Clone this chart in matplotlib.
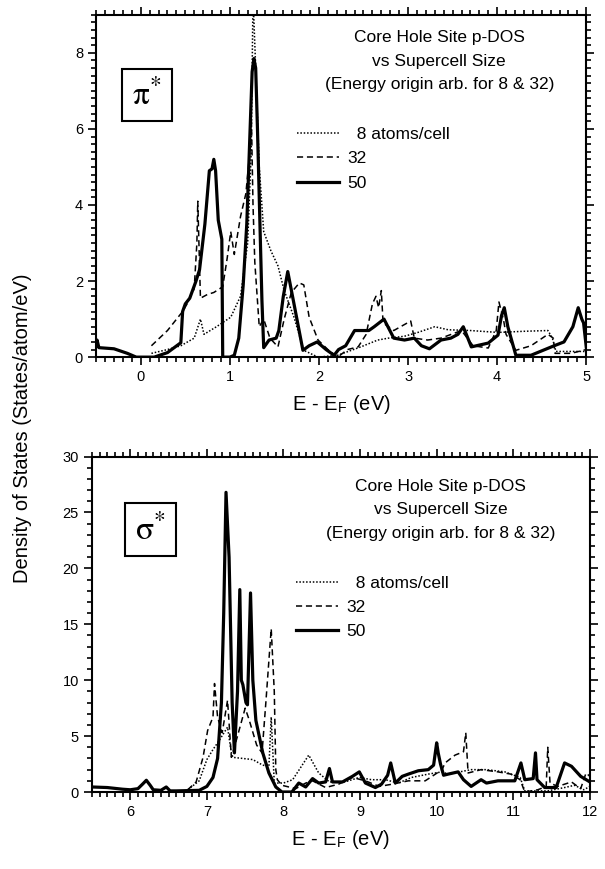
import matplotlib
matplotlib.use("Agg")
import matplotlib.pyplot as plt  # noqa: E402
from matplotlib.ticker import MultipleLocator  # noqa: E402

plt.rcParams["font.family"] = ["Liberation Sans", "DejaVu Sans"]
plt.rcParams["mathtext.fontset"] = "stix"

# --- pi* panel (E - EF, eV) ---
pi_x50 = [-0.5, -0.49, -0.47, -0.3, -0.15, -0.05, 0.15, 0.3, 0.45, 0.47,
          0.5, 0.55, 0.62, 0.66, 0.72, 0.77, 0.8, 0.82, 0.84, 0.87,
          0.91, 0.92, 1.0, 1.05, 1.1, 1.15, 1.19, 1.22, 1.25, 1.27,
          1.29, 1.31, 1.34, 1.36, 1.38, 1.44, 1.52, 1.55, 1.6, 1.65,
          1.72, 1.82, 1.89, 1.98, 2.08, 2.17, 2.22, 2.3, 2.4, 2.56,
          2.62, 2.73, 2.84, 2.96, 3.07, 3.15, 3.24, 3.37, 3.48, 3.56,
          3.62, 3.71, 3.9, 4.01, 4.05, 4.08, 4.12, 4.21, 4.38, 4.64,
          4.75, 4.85, 4.91, 4.95, 4.97, 5.0]
pi_y50 = [0.3, 0.45, 0.25, 0.22, 0.1, 0.0, 0.0, 0.12, 0.38, 1.2,
          1.4, 1.55, 2.0, 2.3, 3.5, 4.9, 4.95, 5.2, 4.9, 3.6,
          3.1, 0.0, 0.0, 0.05, 0.5, 1.9, 3.5, 5.5, 7.5, 7.85,
          7.6, 6.0, 3.3, 1.5, 0.25, 0.45, 0.5, 0.7, 1.6, 2.25,
          1.4, 0.18, 0.3, 0.4, 0.2, 0.05, 0.2, 0.3, 0.7, 0.7,
          0.8, 1.0, 0.5, 0.45, 0.5, 0.3, 0.22, 0.45, 0.5, 0.6,
          0.8, 0.27, 0.37, 0.58, 1.1, 1.3, 0.8, 0.05, 0.05, 0.3,
          0.4, 0.8, 1.3, 1.0, 0.9, 0.27]

pi_x32 = [0.12, 0.3, 0.47, 0.52, 0.6, 0.63, 0.64, 0.67, 0.75, 0.82,
          0.92, 0.97, 1.01, 1.05, 1.12, 1.18, 1.22, 1.24, 1.26, 1.28,
          1.33, 1.38, 1.45, 1.54, 1.61, 1.69, 1.78, 1.83, 1.89, 1.99,
          2.1, 2.21, 2.32, 2.44, 2.53, 2.6, 2.64, 2.67, 2.7, 2.72,
          2.84, 3.03, 3.07, 3.22, 3.37, 3.6, 3.73, 3.9, 3.99, 4.02,
          4.07, 4.1, 4.21, 4.38, 4.57, 4.63, 4.65, 4.83, 5.0]
pi_y32 = [0.3, 0.7, 1.2, 1.4, 1.8, 3.0, 4.1, 1.55, 1.65, 1.7,
          1.85, 2.6, 3.3, 2.7, 3.7, 4.3, 5.3, 6.5, 4.0, 2.5,
          0.8, 1.0, 0.5, 0.27, 1.0, 1.7, 1.95, 1.9, 1.05, 0.45,
          0.2, 0.0, 0.2, 0.27, 0.6, 1.4, 1.6, 1.3, 1.75, 0.9,
          0.7, 0.95, 0.5, 0.45, 0.5, 0.7, 0.3, 0.24, 0.7, 1.45,
          1.0, 0.6, 0.18, 0.3, 0.6, 0.5, 0.1, 0.1, 0.2]

pi_x8 = [0.12, 0.3, 0.45, 0.6, 0.67, 0.71, 0.85, 1.01, 1.12, 1.2,
         1.24, 1.26, 1.29, 1.33, 1.38, 1.46, 1.54, 1.61, 1.72, 1.83,
         1.99, 2.21, 2.47, 2.66, 2.78, 2.96, 3.11, 3.3, 3.45, 3.7,
         4.01, 4.3, 4.57, 4.62, 4.66, 4.98]
pi_y8 = [0.1, 0.2, 0.3, 0.5, 1.0, 0.6, 0.8, 1.05, 1.6, 3.0,
         5.4, 9.5, 7.6, 5.0, 3.3, 2.8, 2.4, 1.75, 1.05, 0.18,
         0.0, 0.05, 0.27, 0.45, 0.5, 0.55, 0.65, 0.8, 0.72, 0.7,
         0.65, 0.68, 0.7, 0.5, 0.15, 0.15]

# --- sigma* panel ---
sg_x50 = [5.5, 5.7, 5.9, 6.0, 6.1, 6.16, 6.21, 6.26, 6.3, 6.4,
          6.47, 6.52, 6.6, 6.9, 7.0, 7.08, 7.14, 7.19, 7.22, 7.25,
          7.29, 7.33, 7.36, 7.4, 7.43, 7.45, 7.47, 7.51, 7.53, 7.57,
          7.6, 7.64, 7.73, 7.81, 7.9, 7.98, 8.11, 8.2, 8.29, 8.38,
          8.46, 8.55, 8.6, 8.64, 8.77, 8.9, 8.99, 9.07, 9.2, 9.28,
          9.36, 9.4, 9.46, 9.55, 9.63, 9.76, 9.89, 9.96, 10.0, 10.02,
          10.05, 10.09, 10.15, 10.28, 10.35, 10.45, 10.58, 10.65, 10.8, 11.02,
          11.1, 11.15, 11.26, 11.29, 11.31, 11.41, 11.56, 11.67, 11.76, 11.88,
          12.0]
sg_y50 = [0.45, 0.4, 0.25, 0.2, 0.3, 0.7, 1.05, 0.6, 0.2, 0.15,
          0.45, 0.1, 0.1, 0.15, 0.5, 1.3, 3.0, 8.0, 16.0, 26.8,
          21.0, 8.0, 3.5, 9.0, 18.1, 10.0, 9.6, 8.0, 7.8, 17.8,
          10.0, 6.4, 3.5, 1.7, 0.45, 0.0, 0.0, 0.8, 0.45, 1.2,
          0.8, 0.9, 2.1, 0.9, 0.9, 1.4, 1.8, 0.8, 0.4, 0.7,
          1.5, 2.6, 0.8, 1.4, 1.6, 1.9, 2.0, 2.4, 4.4, 3.5,
          2.5, 1.5, 1.6, 1.8, 1.1, 0.5, 1.1, 0.8, 1.0, 1.0,
          2.6, 1.1, 1.2, 3.5, 1.1, 0.4, 0.4, 2.6, 2.3, 1.4,
          0.9]

sg_x32 = [6.75, 6.86, 6.95, 7.01, 7.08, 7.1, 7.14, 7.2, 7.27, 7.32,
          7.4, 7.5, 7.55, 7.65, 7.72, 7.77, 7.84, 7.88, 7.9, 7.92,
          7.98, 8.16, 8.29, 8.38, 8.55, 8.72, 8.9, 9.07, 9.25, 9.42,
          9.63, 9.85, 9.94, 10.07, 10.11, 10.24, 10.35, 10.38, 10.41, 10.58,
          10.8, 10.97, 11.09, 11.15, 11.32, 11.43, 11.45, 11.48, 11.58, 11.76,
          11.88, 11.95, 12.0]
sg_y32 = [0.2, 0.9, 3.1, 5.5, 6.7, 9.7, 6.7, 5.3, 8.2, 3.1,
          5.0, 7.5, 6.5, 4.2, 3.5, 8.0, 14.6, 9.0, 2.0, 1.1,
          0.6, 0.3, 0.8, 1.0, 0.4, 0.7, 1.3, 1.0, 0.5, 0.7,
          1.0, 1.0, 1.4, 2.0, 2.6, 3.3, 3.6, 5.3, 1.7, 2.0,
          1.8, 1.6, 1.1, 0.0, 0.2, 0.5, 4.0, 0.8, 0.5, 0.9,
          0.3, 1.7, 1.4]

sg_x8 = [6.75, 6.9, 7.0, 7.08, 7.16, 7.27, 7.32, 7.34, 7.6, 7.73,
         7.81, 7.84, 7.88, 8.0, 8.12, 8.33, 8.46, 8.6, 8.8, 8.99,
         9.15, 9.33, 9.5, 9.67, 9.89, 10.07, 10.15, 10.45, 10.65, 10.89,
         11.09, 11.15, 11.45, 11.67, 11.8, 11.92, 12.0]
sg_y8 = [0.2, 1.0, 2.9, 3.8, 4.6, 5.8, 3.5, 3.1, 2.9, 2.4,
         2.3, 6.7, 0.8, 0.8, 1.1, 3.3, 1.7, 0.9, 0.9, 1.3,
         1.1, 1.1, 0.8, 1.3, 1.6, 1.8, 1.6, 2.0, 2.0, 1.8,
         1.3, 0.1, 0.1, 0.4, 0.6, 0.2, 0.5]

legend_labels = ["  8 atoms/cell", "32", "50"]
note_lines = ["Core Hole Site p-DOS", "vs Supercell Size",
              "(Energy origin arb. for 8 & 32)"]

DOT = dict(color="black", lw=1.1, ls=(0, (1, 1.2)))
DASH = dict(color="black", lw=1.1, ls=(0, (4, 2.5)))
SOLID = dict(color="black", lw=2.3, ls="-")


def style_axes(ax, xmaj, xmin, ymaj, ymin):
    ax.xaxis.set_major_locator(MultipleLocator(xmaj))
    ax.xaxis.set_minor_locator(MultipleLocator(xmin))
    ax.yaxis.set_major_locator(MultipleLocator(ymaj))
    ax.yaxis.set_minor_locator(MultipleLocator(ymin))
    ax.tick_params(which="both", direction="out", top=True, right=True,
                   width=1.2, labelsize=10.5)
    ax.tick_params(which="major", length=6)
    ax.tick_params(which="minor", length=3.5)
    for sp in ax.spines.values():
        sp.set_linewidth(1.5)
    ax.set_xlabel("E - E$_\\mathregular{F}$ (eV)", fontsize=14.5, labelpad=6)


def panel(ax, xs, ys, label, note_y, leg_top):
    h8, = ax.plot(xs[0], ys[0], **DOT)
    h32, = ax.plot(xs[1], ys[1], **DASH)
    h50, = ax.plot(xs[2], ys[2], **SOLID)
    for i, line in enumerate(note_lines):
        ax.text(0.70, note_y - i * 0.069, line, transform=ax.transAxes,
                ha="center", va="center", fontsize=12.5)
    ax.legend([h8, h32, h50], legend_labels, loc="upper left",
              bbox_to_anchor=(0.41, leg_top), frameon=False, fontsize=12.5,
              handlelength=2.4, handletextpad=0.5, labelspacing=0.52,
              borderpad=0, borderaxespad=0)
    ax.text(label[1], label[2], label[0], transform=ax.transAxes,
            ha="center", va="center", fontsize=24,
            bbox=dict(boxstyle="square,pad=0.3", fc="white", ec="black",
                      lw=1.5))


fig = plt.figure(figsize=(6.05, 8.69), dpi=100)
ax1 = fig.add_axes([0.159, 0.589, 0.810, 0.394])
ax2 = fig.add_axes([0.152, 0.0886, 0.823, 0.386])

panel(ax1, [pi_x8, pi_x32, pi_x50], [pi_y8, pi_y32, pi_y50],
      (r"$\mathrm{\pi}^{*}$", 0.104, 0.766), 0.933, 0.672)
ax1.set_xlim(-0.5, 5)
ax1.set_ylim(0, 9)
style_axes(ax1, 1, 0.1, 2, 0.2)

panel(ax2, [sg_x8, sg_x32, sg_x50], [sg_y8, sg_y32, sg_y50],
      (r"$\mathrm{\sigma}^{*}$", 0.117, 0.782), 0.910, 0.645)
ax2.set_xlim(5.5, 12)
ax2.set_ylim(0, 30)
style_axes(ax2, 1, 0.1, 5, 1)

fig.text(0.038, 0.507, "Density of States (States/atom/eV)", rotation=90,
         ha="center", va="center", fontsize=14.5)

fig.savefig("out.png", dpi=100)
plt.close(fig)
